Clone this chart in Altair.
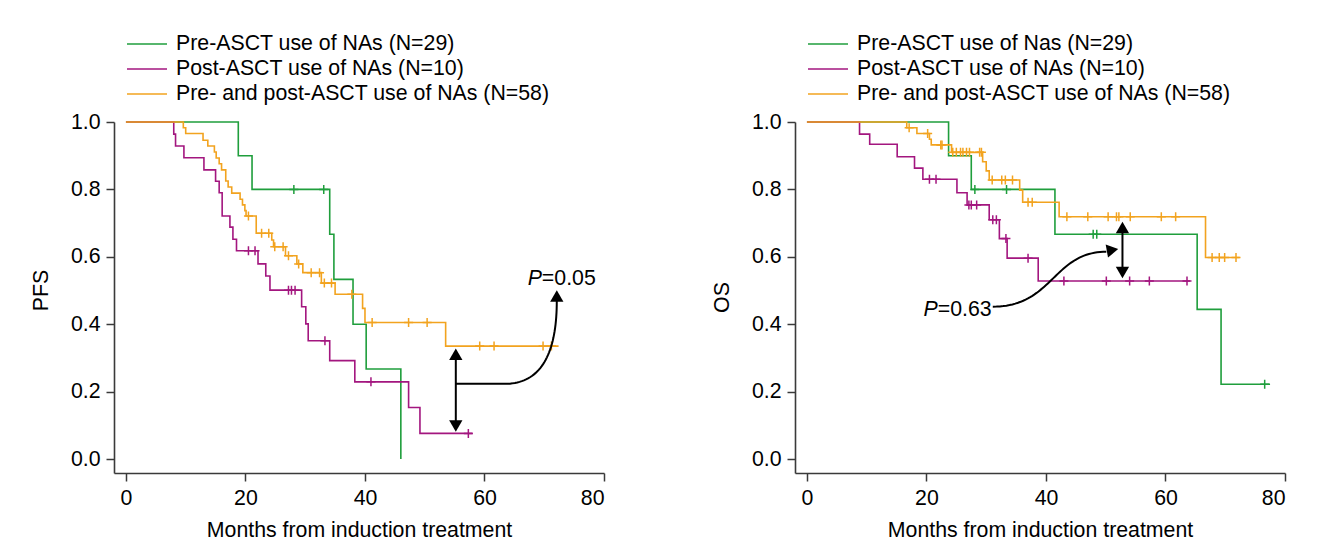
import altair as alt
import pandas as pd
import numpy as np

FONT = "Liberation Sans"
FS = 21.3
GREEN = "#1f9e3c"
PURPLE = "#a3167f"
ORANGE = "#f2a31f"
COLORS = [GREEN, PURPLE, ORANGE]

PFS_LABELS = ["Pre-ASCT use of NAs (N=29)", "Post-ASCT use of NAs (N=10)",
              "Pre- and post-ASCT use of NAs (N=58)"]
OS_LABELS = ["Pre-ASCT use of Nas (N=29)", "Post-ASCT use of NAs (N=10)",
             "Pre- and post-ASCT use of NAs (N=58)"]

X_TICKS = [0, 20, 40, 60, 80]
Y_TICKS = [0.0, 0.2, 0.4, 0.6, 0.8, 1.0]

# ---------------- PFS ----------------
pfs_green_t = [0, 18.8, 21.1, 34.1, 34.8, 38.0, 40.2, 46.0]
pfs_green_s = [1.0, 0.9, 0.8, 0.667, 0.533, 0.4, 0.267, 0.0]
pfs_green_c = [28.1, 33.1]

pfs_purple_t = [0, 8.0, 8.3, 9.7, 13.05, 15.0, 15.6, 16.1, 17.4, 17.9, 18.5, 22.1, 23.4,
                24.1, 29.4, 30.1, 30.5, 34.1, 38.3, 47.3, 49.2, 58.0]
pfs_purple_s = [1.0, 0.964, 0.929, 0.894, 0.858, 0.824, 0.790, 0.721, 0.688, 0.652, 0.618,
                0.579, 0.543, 0.501, 0.452, 0.401, 0.351, 0.292, 0.229, 0.153, 0.076, 0.076]
pfs_purple_c = [20.5, 21.6, 27.2, 27.7, 28.3, 33.3, 41.0, 57.3]

pfs_orange_t = [0, 9.6, 10.0, 12.9, 13.7, 14.8, 15.1, 15.6, 16.0, 16.7, 17.1, 17.7, 19.1,
                19.5, 19.9, 20.1, 21.8, 24.4, 24.7, 26.7, 28.6, 29.6, 32.7, 35.0, 39.6,
                40.0, 53.5, 72.4]
pfs_orange_s = [1.0, 0.983, 0.966, 0.946, 0.929, 0.911, 0.893, 0.876, 0.858, 0.825, 0.807,
                0.789, 0.771, 0.754, 0.737, 0.721, 0.670, 0.650, 0.630, 0.603, 0.579, 0.553,
                0.522, 0.489, 0.447, 0.405, 0.335, 0.335]
pfs_orange_c = [20.5, 22.7, 23.9, 24.9, 26.3, 27.2, 28.9, 31.0, 32.4, 33.2, 34.4, 37.8,
                41.2, 47.3, 50.4, 59.2, 61.6, 69.8, 71.2]

# ---------------- OS ----------------
os_green_t = [0, 23.7, 27.5, 41.5, 65.3, 69.3, 77.5]
os_green_s = [1.0, 0.9, 0.8, 0.667, 0.444, 0.222, 0.222]
os_green_c = [28.1, 33.4, 47.9, 48.5, 76.6]

os_purple_t = [0, 8.8, 10.5, 15.1, 18.0, 19.4, 25.1, 26.8, 30.5, 32.2, 33.5, 38.7, 64.1]
os_purple_s = [1.0, 0.964, 0.934, 0.897, 0.863, 0.830, 0.790, 0.754, 0.710, 0.654, 0.596,
               0.528, 0.528]
os_purple_c = [20.5, 21.6, 27.1, 27.5, 28.4, 31.1, 31.7, 33.3, 37.0, 43.0, 50.1, 54.0,
               57.3, 63.6]

os_orange_t = [0, 16.7, 18.4, 20.5, 20.8, 24.2, 29.4, 30.0, 30.5, 35.6, 36.1, 42.2, 66.7, 72.4]
os_orange_s = [1.0, 0.983, 0.966, 0.949, 0.932, 0.910, 0.882, 0.855, 0.828, 0.798, 0.762,
               0.719, 0.598, 0.598]
os_orange_c = [17.1, 20.2, 22.4, 22.6, 24.4, 25.0, 25.7, 26.1, 26.7, 27.2, 28.9, 29.2,
               31.0, 32.6, 33.2, 34.4, 37.0, 37.7, 43.5, 47.0, 50.4, 51.8, 52.2, 54.1,
               59.3, 61.7, 67.8, 69.0, 69.9, 71.8]

# ---------------- annotations (data units) ----------------
pfs_dbl_arrow = {"t": 55.2, "top": 0.328, "bottom": 0.081}
pfs_curve = {"p0": (55.2, 0.223), "p1": (63.4, 0.223), "c": (72.1, 0.223), "p2": (72.1, 0.47)}
pfs_head = (72.1, 0.501)
pfs_text = {"t": 69.6, "s": 0.516, "rest": "=0.05"}

os_dbl_arrow = {"t": 52.8, "top": 0.704, "bottom": 0.536}
os_curve = {"p0": (31.1, 0.452), "c1": (41.2, 0.452), "c2": (41.2, 0.615), "p3": (50.1, 0.615)}
os_head = (52.1, 0.620)
os_text = {"t": 30.9, "s": 0.424, "rest": "=0.63"}

HEAD_SIZE = 177
HEAD_H = 0.866 * np.sqrt(HEAD_SIZE) / 2


def step_df(t, s, label):
    return pd.DataFrame({"t": t, "s": s, "group": label})


def censor_df(ct, t, s, label):
    vals = []
    for c in ct:
        idx = max(i for i, tt in enumerate(t) if tt <= c)
        vals.append(s[idx])
    return pd.DataFrame({"t": ct, "s": vals, "group": label})


def xenc():
    return alt.X("t:Q", scale=alt.Scale(domain=[-2.0, 80], nice=False, zero=False),
                 axis=alt.Axis(values=X_TICKS, title="Months from induction treatment",
                               grid=False, format="d"))


def yenc(title, title_y):
    return alt.Y("s:Q", scale=alt.Scale(domain=[-0.0415, 1.0], nice=False, zero=False),
                 axis=alt.Axis(values=Y_TICKS, title=title, grid=False, format=".1f",
                               titleY=title_y))


def panel(series, labels, ytitle, title_y, annot_lines, heads, texts):
    x = xenc()
    y = yenc(ytitle, title_y)
    cscale = alt.Scale(domain=labels, range=COLORS)
    legend = alt.Legend(orient="none", legendX=12, legendY=-89, title=None,
                        symbolType="M-1,0L3,0", symbolSize=400, symbolStrokeWidth=1.5,
                        labelFontSize=FS, labelLimit=600, labelOffset=28,
                        rowPadding=3, labelColor="black", labelFont=FONT)
    layers = []
    cens = []
    for (t, s, ct), lab in zip(series, labels):
        layers.append(
            alt.Chart(step_df(t, s, lab)).mark_line(interpolate="step-after", strokeWidth=1.6)
            .encode(x=x, y=y, color=alt.Color("group:N", scale=cscale, legend=legend))
        )
        cens.append(censor_df(ct, t, s, lab))
    cdf = pd.concat(cens)
    layers.append(
        alt.Chart(cdf).mark_point(shape="M-1,0L1,0M0,-1L0,1", size=81, filled=False,
                                  strokeWidth=1.5, opacity=1)
        .encode(x=x, y=y, stroke=alt.Stroke("group:N", scale=cscale, legend=None))
    )
    layers.append(
        alt.Chart(annot_lines).mark_line(color="black", strokeWidth=2)
        .encode(x=x, y=y, detail="seg:N", order="i:Q")
    )
    for (ht, hs, shape, xo, yo, ang) in heads:
        hdf = pd.DataFrame({"t": [ht], "s": [hs]})
        layers.append(
            alt.Chart(hdf).mark_point(shape=shape, size=HEAD_SIZE, filled=True, color="black",
                                      opacity=1, xOffset=xo, yOffset=yo, angle=ang)
            .encode(x=x, y=y)
        )
    for (tt, ts, txt, align, dx, style) in texts:
        tdf = pd.DataFrame({"t": [tt], "s": [ts], "txt": [txt]})
        layers.append(
            alt.Chart(tdf).mark_text(align=align, baseline="alphabetic", dx=dx, fontSize=FS,
                                     font=FONT, fontStyle=style, color="black")
            .encode(x=x, y=y, text="txt:N")
        )
    return alt.layer(*layers).properties(width=490, height=351)


def quad(p0, c, p2, n=40):
    u = np.linspace(0, 1, n)
    xs = (1 - u) ** 2 * p0[0] + 2 * (1 - u) * u * c[0] + u ** 2 * p2[0]
    ys = (1 - u) ** 2 * p0[1] + 2 * (1 - u) * u * c[1] + u ** 2 * p2[1]
    return xs, ys


def cubic(p0, c1, c2, p3, n=50):
    u = np.linspace(0, 1, n)
    xs = ((1 - u) ** 3 * p0[0] + 3 * (1 - u) ** 2 * u * c1[0] + 3 * (1 - u) * u ** 2 * c2[0]
          + u ** 3 * p3[0])
    ys = ((1 - u) ** 3 * p0[1] + 3 * (1 - u) ** 2 * u * c1[1] + 3 * (1 - u) * u ** 2 * c2[1]
          + u ** 3 * p3[1])
    return xs, ys


# PFS annotation lines
a = pfs_dbl_arrow
qx, qy = quad(pfs_curve["p1"], pfs_curve["c"], pfs_curve["p2"])
pfs_ann = pd.concat([
    pd.DataFrame({"t": [a["t"], a["t"]], "s": [a["top"] - 0.02, a["bottom"] + 0.02],
                  "seg": "v", "i": [0, 1]}),
    pd.DataFrame({"t": [pfs_curve["p0"][0]] + list(qx), "s": [pfs_curve["p0"][1]] + list(qy),
                  "seg": "c", "i": list(range(len(qx) + 1))}),
])
pfs_heads = [
    (a["t"], a["top"], "triangle-up", 0, HEAD_H, 0),
    (a["t"], a["bottom"], "triangle-down", 0, -HEAD_H, 0),
    (pfs_head[0], pfs_head[1], "triangle-up", 0, HEAD_H, 0),
]
pfs_texts = [
    (pfs_text["t"], pfs_text["s"], "P", "right", 0, "italic"),
    (pfs_text["t"], pfs_text["s"], pfs_text["rest"], "left", 0, "normal"),
]

b = os_dbl_arrow
cx, cy = cubic(os_curve["p0"], os_curve["c1"], os_curve["c2"], os_curve["p3"])
os_ann = pd.concat([
    pd.DataFrame({"t": [b["t"], b["t"]], "s": [b["top"] - 0.02, b["bottom"] + 0.02],
                  "seg": "v", "i": [0, 1]}),
    pd.DataFrame({"t": list(cx), "s": list(cy), "seg": "c", "i": list(range(len(cx)))}),
])
os_heads = [
    (b["t"], b["top"], "triangle-up", 0, HEAD_H, 0),
    (b["t"], b["bottom"], "triangle-down", 0, -HEAD_H, 0),
    (os_head[0], os_head[1], "triangle-right", -HEAD_H, 0, 350),
]
os_texts = [
    (os_text["t"], os_text["s"], "P", "right", -54, "italic"),
    (os_text["t"], os_text["s"], os_text["rest"], "right", 0, "normal"),
]

left = panel([(pfs_green_t, pfs_green_s, pfs_green_c),
              (pfs_purple_t, pfs_purple_s, pfs_purple_c),
              (pfs_orange_t, pfs_orange_s, pfs_orange_c)],
             PFS_LABELS, "PFS", 168, pfs_ann, pfs_heads, pfs_texts)
right = panel([(os_green_t, os_green_s, os_green_c),
               (os_purple_t, os_purple_s, os_purple_c),
               (os_orange_t, os_orange_s, os_orange_c)],
              OS_LABELS, "OS", 175, os_ann, os_heads, os_texts)

chart = (
    alt.hconcat(left, right, spacing=106)
    .resolve_scale(color="independent", stroke="independent")
    .resolve_legend(color="independent")
    .properties(padding={"left": 22, "top": 25, "right": 5, "bottom": 5})
    .configure(font=FONT)
    .configure_view(stroke=None)
    .configure_axis(domainColor="#3a3a3a", domainWidth=1.6, tickColor="#3a3a3a",
                    tickWidth=1.5, tickSize=8, labelFontSize=FS, labelColor="black",
                    labelFont=FONT, titleFont=FONT, titleFontSize=FS, titleFontWeight="normal",
                    titleColor="black", labelPadding=6)
    .configure_axisX(titlePadding=11)
    .configure_axisY(titlePadding=19)
)

chart.save("out.html", embed_options={"renderer": "svg", "actions": False})
